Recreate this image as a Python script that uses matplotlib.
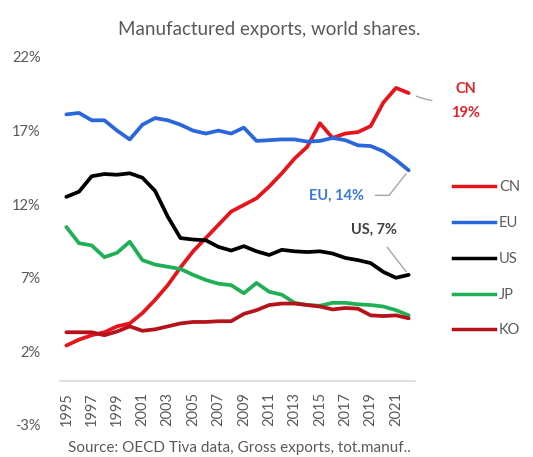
import matplotlib
matplotlib.use("Agg")
import matplotlib.pyplot as plt
from matplotlib.lines import Line2D

plt.rcParams['font.family'] = ['Lato', 'DejaVu Sans']

years = list(range(1995, 2023))
cn = [2.4, 2.8, 3.1, 3.3, 3.7, 3.9, 4.6, 5.5, 6.5, 7.7, 8.8, 9.7, 10.6, 11.5,
      11.95, 12.4, 13.2, 14.1, 15.1, 15.9, 17.5, 16.5, 16.8, 16.9, 17.3, 18.9, 19.9, 19.55]
eu = [18.1, 18.2, 17.7, 17.7, 17.0, 16.4, 17.4, 17.85, 17.7, 17.4, 17.0, 16.8, 17.0, 16.8,
      17.2, 16.3, 16.35, 16.4, 16.4, 16.25, 16.3, 16.5, 16.35, 16.0, 15.95, 15.6, 15.0, 14.3]
us = [12.5, 12.85, 13.9, 14.05, 14.0, 14.1, 13.8, 12.9, 11.15, 9.7, 9.6, 9.55, 9.1, 8.85,
      9.15, 8.8, 8.55, 8.9, 8.8, 8.75, 8.8, 8.65, 8.35, 8.2, 8.0, 7.4, 7.0, 7.2]
jp = [10.45, 9.35, 9.2, 8.4, 8.7, 9.45, 8.2, 7.9, 7.75, 7.6, 7.2, 6.85, 6.6, 6.5,
      5.95, 6.65, 6.05, 5.85, 5.3, 5.15, 5.1, 5.3, 5.3, 5.2, 5.15, 5.05, 4.8, 4.45]
ko = [3.3, 3.3, 3.3, 3.1, 3.35, 3.7, 3.4, 3.5, 3.7, 3.9, 4.0, 4.0, 4.05, 4.05,
      4.55, 4.8, 5.15, 5.25, 5.25, 5.15, 5.05, 4.85, 4.95, 4.9, 4.45, 4.4, 4.45, 4.25]

series_names = ['CN', 'EU', 'US', 'JP', 'KO']
series_values = [cn, eu, us, jp, ko]
colors = ['#e8141c', '#2a66dc', '#000000', '#1fb055', '#b5121b']

yticks = [-3, 2, 7, 12, 17, 22]
ytick_labels = ['-3%', '2%', '7%', '12%', '17%', '22%']
xticks = list(range(1995, 2022, 2))

fig = plt.figure(figsize=(5.33, 4.57), dpi=100)
ax = fig.add_axes([60/533, 32/457, 355/533, 368/457])

for s in ['top', 'right', 'left']:
    ax.spines[s].set_visible(False)
ax.spines['bottom'].set_position(('data', 0))
ax.spines['bottom'].set_color('#d9d9d9')
ax.spines['bottom'].set_linewidth(1.2)

for name, vals, c in zip(series_names, series_values, colors):
    ax.plot(years, vals, color=c, lw=2.7, solid_capstyle='round', solid_joinstyle='round', label=name)

ax.set_xlim(1994.5, 2022.5)
ax.set_ylim(-3, 22)
ax.set_yticks(yticks)
ax.set_yticklabels(ytick_labels)
ax.set_xticks(xticks)
ax.set_xticklabels([str(x) for x in xticks])
ax.tick_params(axis='both', length=0, colors='#595959', labelsize=10.5)
ax.tick_params(axis='y', pad=14)
ax.tick_params(axis='x', pad=8, labelrotation=90)

gray = '#a6a6a6'
ax.annotate('CN\n19%', xy=(years[-1], cn[-1]), xytext=(57, -8), textcoords='offset pixels',
            ha='center', va='center', color='#e3212b', fontsize=10.5, fontweight='bold',
            linespacing=1.9,
            arrowprops=dict(arrowstyle='-', color=gray, lw=1, shrinkA=12, shrinkB=6,
                            connectionstyle='arc3,rad=-0.15'))
ax.annotate('EU, 14%', xy=(years[-1], eu[-1]), xytext=(-72, -25), textcoords='offset pixels',
            ha='center', va='center', color='#3b78d8', fontsize=10.5, fontweight='bold',
            arrowprops=dict(arrowstyle='-', color=gray, lw=1, shrinkA=6, shrinkB=3,
                            connectionstyle='angle,angleA=0,angleB=52,rad=0'))
ax.annotate('US, 7%', xy=(years[-1], us[-1]), xytext=(-35, 45), textcoords='offset pixels',
            ha='center', va='center', color='#404040', fontsize=10.5, fontweight='bold',
            arrowprops=dict(arrowstyle='-', color=gray, lw=1, shrinkA=7, shrinkB=3))

handles = [Line2D([0], [0], color=c, lw=2.5) for c in colors]
fig.legend(handles, series_names, loc='upper left', bbox_to_anchor=(453/533, 1 - 180/457),
           frameon=False, fontsize=10.5, handlelength=2.9, handletextpad=0.25,
           labelspacing=1.5, borderpad=0, borderaxespad=0, labelcolor='#595959')

fig.text(269/533, 1 - 30/457, 'Manufactured exports, world shares.', ha='center', va='center',
         color='#595959', fontsize=13.5)
fig.text(68/533, 1 - 448/457, 'Source: OECD Tiva data, Gross exports, tot.manuf..', ha='left',
         va='center', color='#595959', fontsize=11)

fig.savefig('out.png', dpi=100)
